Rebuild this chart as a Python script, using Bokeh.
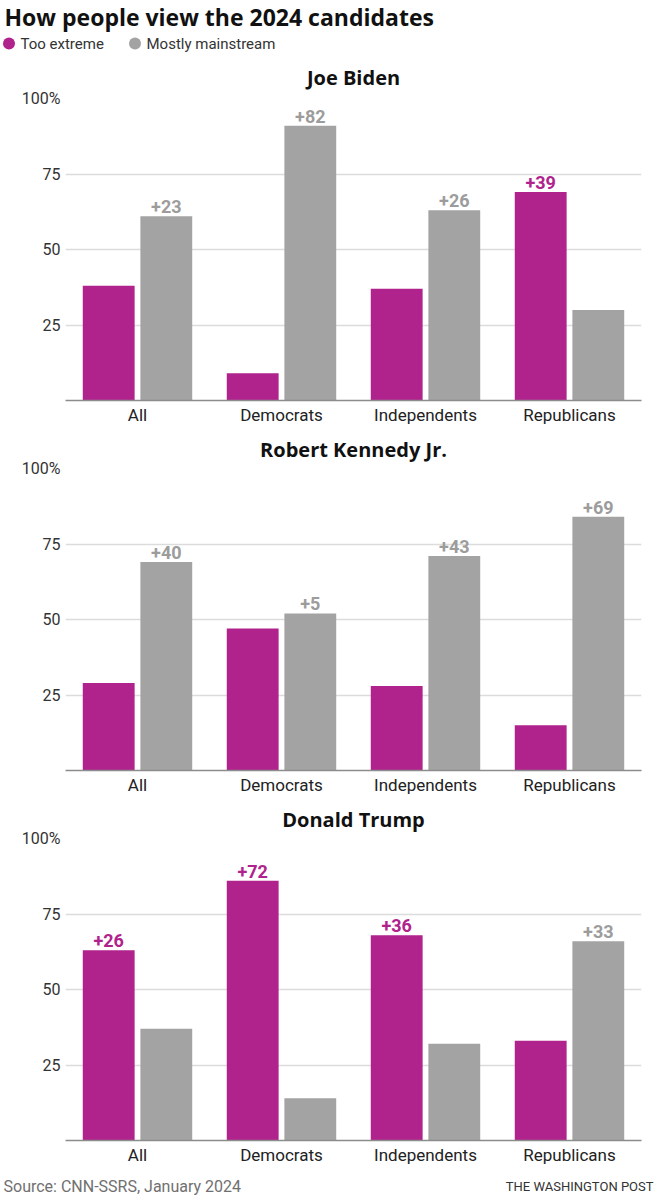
from bokeh.plotting import figure
from bokeh.layouts import column, row
from bokeh.models import ColumnDataSource, FactorRange, Range1d, FixedTicker
from bokeh.transform import dodge
from bokeh.core.properties import value
from bokeh.embed import file_html
from bokeh.resources import INLINE

# ---------------- data ----------------
chart_title = "How people view the 2024 candidates"
series_names = ["Too extreme", "Mostly mainstream"]
groups = ["All", "Democrats", "Independents", "Republicans"]
candidates = ["Joe Biden", "Robert Kennedy Jr.", "Donald Trump"]
biden_extreme = [38, 9, 37, 69]
biden_mainstream = [61, 91, 63, 30]
kennedy_extreme = [29, 47, 28, 15]
kennedy_mainstream = [69, 52, 71, 84]
trump_extreme = [63, 86, 68, 33]
trump_mainstream = [37, 14, 32, 66]
y_ticks = [0, 25, 50, 75, 100]
y_tick_labels = ["", "25", "50", "75", "100%"]
source_text = "Source: CNN-SSRS, January 2024"
credit_text = "THE WASHINGTON POST"

# ---------------- style ----------------
FONT = "Roboto"
TFONT = "Open Sans"
MAG = "#B0228C"
GRAY = "#A3A3A3"
GRAY_TXT = "#9C9C9C"
W = 659
OFF = 0.2
BW = 0.36


def blank(height):
    p = figure(width=W, height=height, x_range=Range1d(0, W), y_range=Range1d(height, 0),
               output_backend="svg", toolbar_location=None,
               x_axis_location=None, y_axis_location=None, min_border=0)
    p.outline_line_color = None
    p.grid.visible = False
    return p


def header():
    p = blank(52)
    p.text(x=[4], y=[16], text=[chart_title], text_font=value(TFONT),
           text_font_size="23px", text_font_style="bold", text_color="#111111",
           text_baseline="middle", text_align="left")
    p.scatter(x=[8.5, 134.5], y=[43, 43], size=12, color=[MAG, GRAY], line_color=None)
    p.text(x=[20, 146], y=[43, 43], text=series_names, text_font=value(FONT),
           text_font_size="15px", text_color="#333333", text_baseline="middle",
           text_align="left")
    return p


def footer():
    p = blank(29)
    p.text(x=[3], y=[15], text=[source_text], text_font=value(FONT),
           text_font_size="16px", text_color="#707070", text_baseline="middle",
           text_align="left")
    p.text(x=[653], y=[15], text=[credit_text], text_font=value(FONT),
           text_font_size="13px", text_color="#333333", text_baseline="middle",
           text_align="right")
    return p


def label_sources(ext, main):
    a = {"g": [], "y": [], "t": []}
    b = {"g": [], "y": [], "t": []}
    for g, e, m in zip(groups, ext, main):
        d = a if e > m else b
        d["g"].append(g)
        d["y"].append(max(e, m))
        d["t"].append("+%d" % abs(e - m))
    return ColumnDataSource(a), ColumnDataSource(b)


def panel(name, ext, main, top, bottom, standoff):
    p = figure(width=W, height=top + 302 + bottom,
               x_range=FactorRange(*groups, range_padding=0),
               y_range=Range1d(0, 100), output_backend="svg", toolbar_location=None,
               min_border_left=65, min_border_right=18, min_border_top=top,
               min_border_bottom=bottom, title=name)
    p.outline_line_color = None
    p.title.align = "center"
    p.title.text_font = TFONT
    p.title.text_font_size = "20px"
    p.title.text_font_style = "bold"
    p.title.text_color = "#111111"
    p.title.standoff = standoff

    src = ColumnDataSource(dict(g=groups, ext=ext, main=main))
    p.vbar(x=dodge("g", -OFF, range=p.x_range), top="ext", width=BW, source=src,
           fill_color=MAG, line_color=None)
    p.vbar(x=dodge("g", OFF, range=p.x_range), top="main", width=BW, source=src,
           fill_color=GRAY, line_color=None)

    sa, sb = label_sources(ext, main)
    for s, off, col in ((sa, -OFF, MAG), (sb, OFF, GRAY_TXT)):
        p.text(x=dodge("g", off, range=p.x_range), y="y", text="t", source=s,
               text_align="center", text_baseline="bottom", y_offset=-3,
               text_font=value(FONT), text_font_size="18px", text_font_style="bold",
               text_color=col)

    p.xgrid.grid_line_color = None
    p.ygrid.ticker = FixedTicker(ticks=y_ticks)
    p.ygrid.grid_line_color = "#DCDCDC"
    p.ygrid.grid_line_width = 1.5

    p.yaxis.ticker = FixedTicker(ticks=y_ticks)
    p.yaxis.major_label_overrides = {t: l for t, l in zip(y_ticks, y_tick_labels)}
    p.yaxis.axis_line_color = None
    p.yaxis.major_tick_line_color = None
    p.yaxis.minor_tick_line_color = None
    p.yaxis.major_tick_out = 0
    p.yaxis.major_label_standoff = 5
    p.yaxis.major_label_text_font = FONT
    p.yaxis.major_label_text_font_size = "16px"
    p.yaxis.major_label_text_color = "#333333"

    p.xaxis.axis_line_color = "#8C8C8C"
    p.xaxis.axis_line_width = 1.5
    p.xaxis.major_tick_line_color = None
    p.xaxis.major_tick_out = 0
    p.xaxis.major_label_standoff = 4
    p.xaxis.major_label_text_font = FONT
    p.xaxis.major_label_text_font_size = "17px"
    p.xaxis.major_label_text_color = "#222222"
    return p


p1 = panel(candidates[0], biden_extreme, biden_mainstream, 46, 27, 16)
p2 = panel(candidates[1], kennedy_extreme, kennedy_mainstream, 41, 27, 11)
p3 = panel(candidates[2], trump_extreme, trump_mainstream, 41, 31, 11)

layout = column(row(header()), column(p1, p2, p3, spacing=0), row(footer()), spacing=0)
open("out.html", "w").write(file_html(layout, INLINE))
